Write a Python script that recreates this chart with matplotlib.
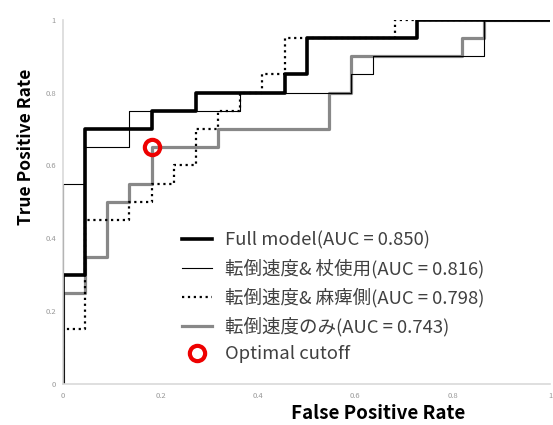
import matplotlib
matplotlib.use("Agg")
import matplotlib.pyplot as plt

plt.rcParams['font.family'] = ['Noto Sans CJK JP', 'DejaVu Sans']

# ROC points (steps-post)
fpr_full = [0, 0, 0.045, 0.182, 0.273, 0.455, 0.5, 0.727, 1]
tpr_full = [0, 0.3, 0.7, 0.75, 0.8, 0.85, 0.95, 1, 1]

fpr_cane = [0, 0, 0.045, 0.136, 0.364, 0.591, 0.636, 0.864, 1]
tpr_cane = [0, 0.55, 0.65, 0.75, 0.8, 0.85, 0.9, 1, 1]

fpr_side = [0, 0, 0.045, 0.136, 0.182, 0.227, 0.273, 0.318, 0.364, 0.409, 0.455, 0.682, 1]
tpr_side = [0, 0.15, 0.45, 0.5, 0.55, 0.6, 0.7, 0.75, 0.8, 0.85, 0.95, 1, 1]

fpr_speed = [0, 0, 0.045, 0.091, 0.136, 0.182, 0.318, 0.545, 0.591, 0.818, 0.864, 1]
tpr_speed = [0, 0.25, 0.35, 0.5, 0.55, 0.65, 0.7, 0.8, 0.9, 0.95, 1, 1]

labels = ["Full model(AUC = 0.850)",
          "転倒速度& 杖使用(AUC = 0.816)",
          "転倒速度& 麻痺側(AUC = 0.798)",
          "転倒速度のみ(AUC = 0.743)",
          "Optimal cutoff"]

cutoff_x = [0.182]
cutoff_y = [0.65]

ticks = [0, 0.2, 0.4, 0.6, 0.8, 1]
tick_labels = ["0", "0.2", "0.4", "0.6", "0.8", "1"]

fig = plt.figure(figsize=(5.53, 4.25), dpi=100)
ax = fig.add_axes([0.114, 0.0965, 0.881, 0.857])

h4, = ax.plot(fpr_speed, tpr_speed, drawstyle='steps-post', color='#888888', lw=2.3)
h1, = ax.plot(fpr_full, tpr_full, drawstyle='steps-post', color='black', lw=2.6)
h2, = ax.plot(fpr_cane, tpr_cane, drawstyle='steps-post', color='black', lw=0.8)
h3, = ax.plot(fpr_side, tpr_side, drawstyle='steps-post', color='black', lw=1.6, ls=':')
h5, = ax.plot(cutoff_x, cutoff_y, 'o', mfc='none', mec='#ee0000', ms=11, mew=3, ls='none')

ax.set_xlim(0, 1)
ax.set_ylim(0, 1)
ax.set_xticks(ticks)
ax.set_xticklabels(tick_labels)
ax.set_yticks(ticks)
ax.set_yticklabels(tick_labels)
ax.tick_params(length=0, labelsize=5.5, labelcolor='#999999')
ax.tick_params(axis='y', pad=5)
ax.tick_params(axis='x', pad=6)
for s in ['top', 'right']:
    ax.spines[s].set_visible(False)
for s in ['left', 'bottom']:
    ax.spines[s].set_color('#d9d9d9')
    ax.spines[s].set_linewidth(1.2)

fig.text(0.047, 0.655, "True Positive Rate", rotation=90, ha='center', va='center',
         fontsize=12.5, fontweight='bold')
fig.text(0.683, 0.026, "False Positive Rate", ha='center', va='center',
         fontsize=13.5, fontweight='bold')

ax.legend([h1, h2, h3, h4, h5], labels, loc='upper left',
          bbox_to_anchor=(0.329, 0.455), bbox_transform=fig.transFigure,
          frameon=False, fontsize=13.3, labelcolor='#404040',
          handlelength=1.65, handletextpad=0.67, labelspacing=0.49,
          borderaxespad=0, borderpad=0)

fig.savefig("out.png", dpi=100)
